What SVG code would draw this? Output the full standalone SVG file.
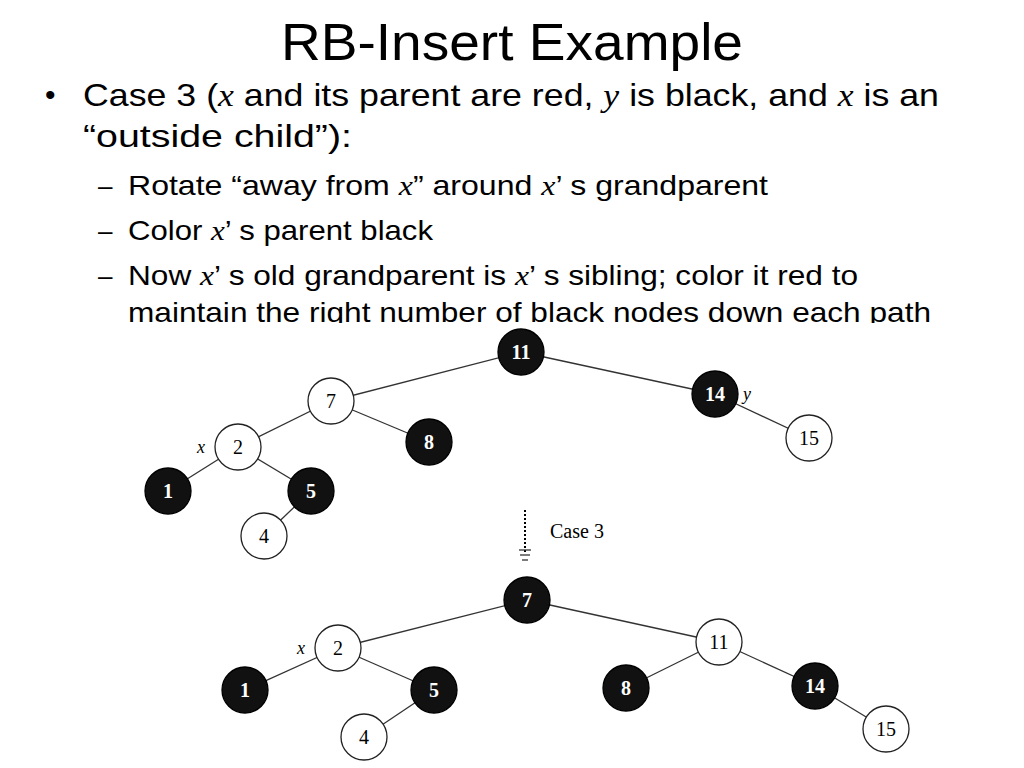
<svg xmlns="http://www.w3.org/2000/svg" width="1024" height="768" viewBox="0 0 1024 768">
<style>
.t{font-family:"Liberation Sans",Arial,sans-serif;fill:#000}
.i{font-family:"Liberation Serif",serif;font-style:italic}
.e line{stroke:#333;stroke-width:1.3}
.w{fill:#fff;stroke:#222;stroke-width:1.3}
.b{fill:#111;stroke:#000;stroke-width:1.3}
.n{font-family:"Liberation Serif",serif;font-size:20px;text-anchor:middle}
.nw{fill:#000}.nb{fill:#fff;font-weight:bold}
.lab{font-family:"Liberation Serif",serif;font-style:italic;font-size:18px}
</style>
<defs><clipPath id="c"><rect x="0" y="0" width="1024" height="323"/></clipPath></defs>
<rect width="1024" height="768" fill="#fff"/>
<text class="t" x="512" y="60" font-size="52" text-anchor="middle" textLength="462" lengthAdjust="spacingAndGlyphs">RB-Insert Example</text>
<g clip-path="url(#c)">
<text class="t" x="45" y="105" font-size="30">•</text>
<text class="t" x="83" y="106" font-size="32" textLength="856" lengthAdjust="spacingAndGlyphs">Case 3 (<tspan class="i">x</tspan> and its parent are red, <tspan class="i">y</tspan> is black, and <tspan class="i">x</tspan> is an</text>
<text class="t" x="83" y="147" font-size="32" textLength="269" lengthAdjust="spacingAndGlyphs">“outside child”):</text>
<text class="t" x="98" y="195" font-size="26">–</text>
<text class="t" x="128" y="195" font-size="28" textLength="640" lengthAdjust="spacingAndGlyphs">Rotate “away from <tspan class="i">x</tspan>” around <tspan class="i">x</tspan>’ s grandparent</text>
<text class="t" x="98" y="240" font-size="26">–</text>
<text class="t" x="128" y="240" font-size="28" textLength="305" lengthAdjust="spacingAndGlyphs">Color <tspan class="i">x</tspan>’ s parent black</text>
<text class="t" x="98" y="285" font-size="26">–</text>
<text class="t" x="128" y="285" font-size="28" textLength="730" lengthAdjust="spacingAndGlyphs">Now <tspan class="i">x</tspan>’ s old grandparent is <tspan class="i">x</tspan>’ s sibling; color it red to</text>
<text class="t" x="128" y="322" font-size="28" textLength="803" lengthAdjust="spacingAndGlyphs">maintain the right number of black nodes down each path</text>
</g>
<g class="e" id="edges">
<line x1="521" y1="352" x2="331" y2="401"/><line x1="521" y1="352" x2="715" y2="394"/>
<line x1="715" y1="394" x2="809" y2="438"/><line x1="331" y1="401" x2="238" y2="447"/>
<line x1="331" y1="401" x2="429" y2="442"/><line x1="238" y1="447" x2="168" y2="491"/>
<line x1="238" y1="447" x2="311" y2="491"/><line x1="311" y1="491" x2="264" y2="536"/>
<line x1="527" y1="600" x2="338" y2="648"/><line x1="527" y1="600" x2="719" y2="642"/>
<line x1="338" y1="648" x2="245" y2="690"/><line x1="338" y1="648" x2="434" y2="690"/>
<line x1="434" y1="690" x2="364" y2="737"/><line x1="719" y1="642" x2="626" y2="688"/>
<line x1="719" y1="642" x2="815" y2="686"/><line x1="815" y1="686" x2="886" y2="729"/>
<line x1="525" y1="510" x2="525" y2="552" stroke-dasharray="2 2" style="stroke:#000;stroke-width:2"/>
<line x1="519" y1="550" x2="531" y2="550"/><line x1="520" y1="555" x2="530" y2="555"/><line x1="522" y1="560" x2="528" y2="560"/>
</g>
<g id="n11a"><circle class="b" cx="521" cy="352" r="23"/><text class="n nb" x="521" y="359">11</text></g>
<g id="n7a"><circle class="w" cx="331" cy="401" r="23"/><text class="n nw" x="331" y="408">7</text></g>
<g id="n14a"><circle class="b" cx="715" cy="394" r="23"/><text class="n nb" x="715" y="401">14</text></g>
<g id="n15a"><circle class="w" cx="809" cy="438" r="23"/><text class="n nw" x="809" y="445">15</text></g>
<g id="n2a"><circle class="w" cx="238" cy="447" r="23"/><text class="n nw" x="238" y="454">2</text></g>
<g id="n8a"><circle class="b" cx="429" cy="442" r="23"/><text class="n nb" x="429" y="449">8</text></g>
<g id="n1a"><circle class="b" cx="168" cy="491" r="23"/><text class="n nb" x="168" y="498">1</text></g>
<g id="n5a"><circle class="b" cx="311" cy="491" r="23"/><text class="n nb" x="311" y="498">5</text></g>
<g id="n4a"><circle class="w" cx="264" cy="536" r="23"/><text class="n nw" x="264" y="543">4</text></g>
<g id="n7b"><circle class="b" cx="527" cy="600" r="23"/><text class="n nb" x="527" y="607">7</text></g>
<g id="n2b"><circle class="w" cx="338" cy="648" r="23"/><text class="n nw" x="338" y="655">2</text></g>
<g id="n11b"><circle class="w" cx="719" cy="642" r="23"/><text class="n nw" x="719" y="649">11</text></g>
<g id="n1b"><circle class="b" cx="245" cy="690" r="23"/><text class="n nb" x="245" y="697">1</text></g>
<g id="n5b"><circle class="b" cx="434" cy="690" r="23"/><text class="n nb" x="434" y="697">5</text></g>
<g id="n8b"><circle class="b" cx="626" cy="688" r="23"/><text class="n nb" x="626" y="695">8</text></g>
<g id="n14b"><circle class="b" cx="815" cy="686" r="23"/><text class="n nb" x="815" y="693">14</text></g>
<g id="n4b"><circle class="w" cx="364" cy="737" r="23"/><text class="n nw" x="364" y="744">4</text></g>
<g id="n15b"><circle class="w" cx="886" cy="729" r="23"/><text class="n nw" x="886" y="736">15</text></g>
<text class="lab" x="197" y="453">x</text>
<text class="lab" x="743" y="400">y</text>
<text class="lab" x="297" y="654">x</text>
<text x="550" y="538" font-family="Liberation Serif,serif" font-size="20">Case 3</text>
</svg>
